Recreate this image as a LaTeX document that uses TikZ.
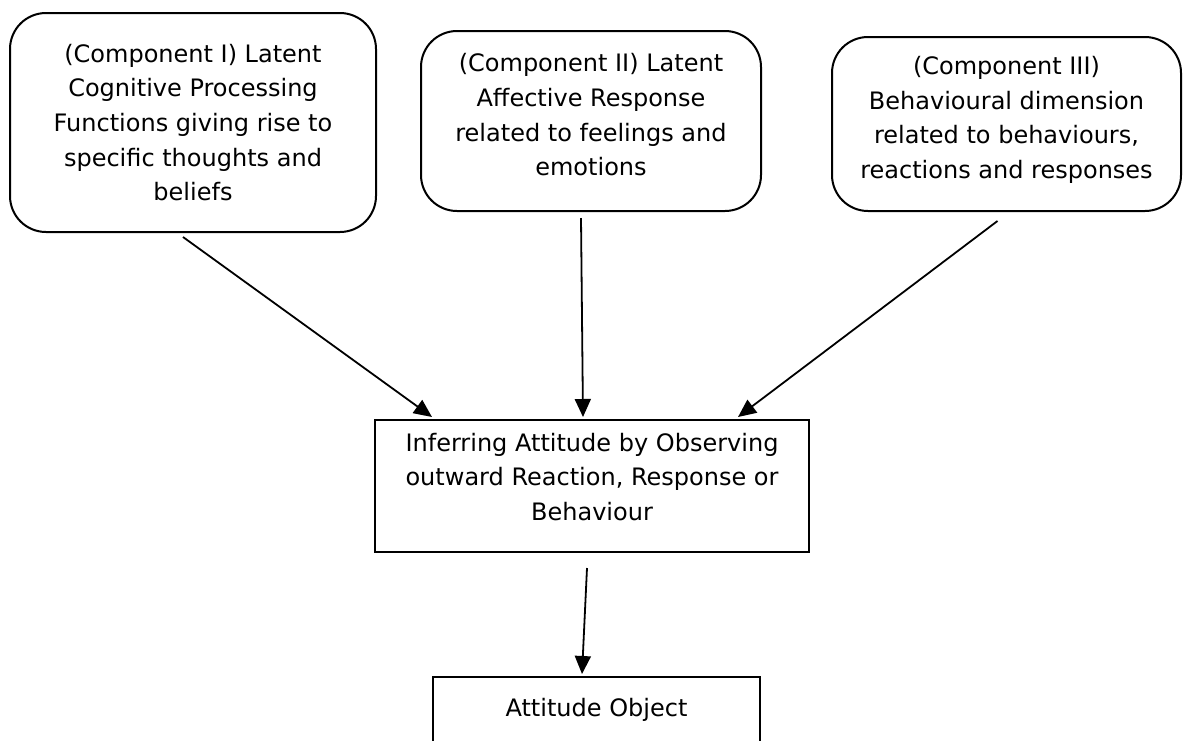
\documentclass[tikz,border=0pt]{standalone}
\usepackage{fontspec}
\setmainfont{DejaVu Sans}
\usetikzlibrary{calc, arrows.meta}

\begin{document}
\begin{tikzpicture}[x=1pt, y=-1pt, line width=1.8pt,
   every node/.style={font=\fontsize{24}{34.7}\selectfont, align=center},
   comp node/.style={draw, rounded corners=36pt, line width=2pt, inner sep=0pt},
   plain node/.style={draw, rectangle, line width=2pt, inner sep=0pt},
   arr/.style={-{Triangle[length=18pt,width=16pt]}}]
   \useasboundingbox (0,0) rectangle (1183,740);

   \node[comp node, minimum width=366pt, minimum height=219pt] (0) at (193,122.5)
      {(Component I) Latent\\Cognitive Processing\\Functions giving rise to\\specific thoughts and\\beliefs};
   \node[comp node, minimum width=340pt, minimum height=180pt] (1) at (591,121)
      {(Component II) Latent\\Affective Response\\related to feelings and\\emotions\par\vspace{12pt}};
   \node[comp node, minimum width=349pt, minimum height=174pt] (2) at (1006.5,124)
      {(Component III)\\Behavioural dimension\\related to behaviours,\\reactions and responses\par\vspace{8pt}};
   \node[plain node, minimum width=434pt, minimum height=132pt] (3) at (592,486)
      {Inferring Attitude by Observing\\outward Reaction, Response or\\Behaviour\par\vspace{18pt}};
   \node[plain node, minimum width=327pt, minimum height=66pt] (4) at (596.5,710)
      {Attitude Object};

   \draw[arr] ([xshift=-10pt,yshift=-4pt]0.south) -- ([xshift=-160pt,yshift=2pt]3.north);
   \draw[arr] ([xshift=-10pt,yshift=-6pt]1.south) -- ([xshift=-9pt,yshift=2pt]3.north);
   \draw[arr] ([xshift=-9pt,yshift=-9pt]2.south) -- ([xshift=146pt,yshift=2pt]3.north);
   \draw[arr] ([xshift=-5pt,yshift=-15pt]3.south) -- ([xshift=-14.5pt,yshift=2pt]4.north);
\end{tikzpicture}
\end{document}
